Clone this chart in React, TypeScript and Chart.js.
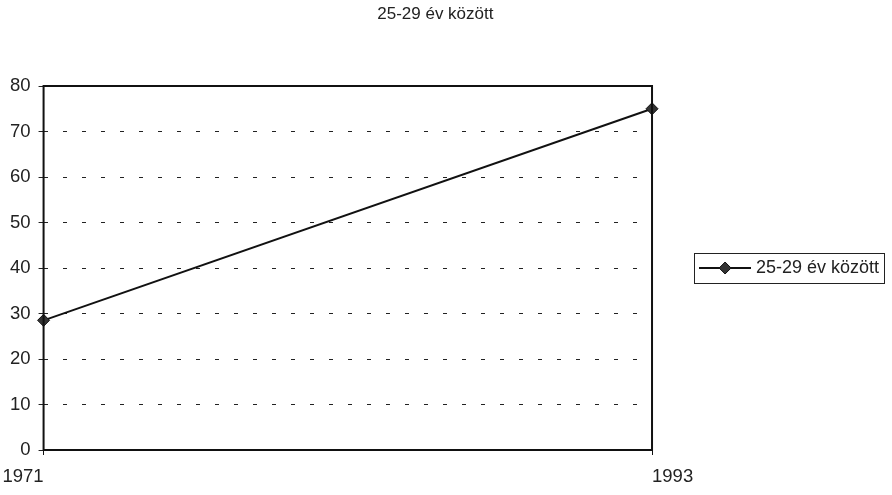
import React, { useEffect, useRef } from "react";
import { Chart, registerables } from "chart.js";

Chart.register(...registerables);

const title = "25-29 év között";
const categories = ["1971", "1993"];
const seriesName = "25-29 év között";
const seriesValues = [28.5, 75];
const yMin = 0;
const yMax = 80;
const yStep = 10;

const FONT = "'Liberation Sans', Arial, sans-serif";

function makeLegendImage(): HTMLCanvasElement {
  const c = document.createElement("canvas");
  c.width = 52;
  c.height = 14;
  const ctx = c.getContext("2d")!;
  ctx.strokeStyle = "#111";
  ctx.lineWidth = 2;
  ctx.beginPath();
  ctx.moveTo(0, 7);
  ctx.lineTo(52, 7);
  ctx.stroke();
  ctx.fillStyle = "#333";
  ctx.lineWidth = 1;
  ctx.beginPath();
  ctx.moveTo(26, 1);
  ctx.lineTo(32, 7);
  ctx.lineTo(26, 13);
  ctx.lineTo(20, 7);
  ctx.closePath();
  ctx.fill();
  ctx.stroke();
  return c;
}

const framePlugin = {
  id: "frame",
  afterLayout(chart: any) {
    const l = chart.legend;
    if (l) {
      l.right = chart.width;
      l.width = l.right - l.left;
    }
  },
  afterDraw(chart: any) {
    const { ctx, chartArea } = chart;
    ctx.save();
    ctx.strokeStyle = "#111";
    ctx.lineWidth = 2;
    ctx.strokeRect(chartArea.left, chartArea.top, chartArea.right - chartArea.left, chartArea.bottom - chartArea.top);
    const legend = chart.legend;
    if (legend && legend.legendHitBoxes && legend.legendHitBoxes.length) {
      const hb = legend.legendHitBoxes[0];
      ctx.lineWidth = 1;
      ctx.strokeStyle = "#222";
      ctx.strokeRect(Math.round(hb.left - 9) + 0.5, Math.round(hb.top - 6) + 0.5, Math.round(hb.width + 14), Math.round(hb.height + 12));
    }
    ctx.restore();
  },
};

const tickFont = { family: FONT, size: 18.5 };

function labelAxis(align: string, showIndex: (i: number) => boolean) {
  return {
    type: "category",
    position: { y: yMin },
    grid: { display: false, drawTicks: false },
    border: { display: false },
    ticks: {
      color: "#222",
      font: tickFont,
      padding: 16,
      maxRotation: 0,
      autoSkip: false,
      align,
      callback: function (this: any, _v: any, i: number) {
        return showIndex(i) ? this.getLabelForValue(i) : "";
      },
    },
    afterFit: (s: any) => {
      s.paddingLeft = 0;
      s.paddingRight = 0;
    },
  };
}

export default function App() {
  const ref = useRef<HTMLCanvasElement | null>(null);
  useEffect(() => {
    document.body.style.margin = "0";
    const legendImg = makeLegendImage();
    const lastIndex = categories.length - 1;
    const chart = new Chart(ref.current!, {
      type: "line",
      data: {
        labels: categories,
        datasets: [
          {
            label: seriesName,
            data: seriesValues,
            borderColor: "#111",
            borderWidth: 2,
            pointStyle: "rectRot",
            pointRadius: 6,
            pointBackgroundColor: "#333",
            pointBorderColor: "#111",
            pointBorderWidth: 1,
            tension: 0,
          },
        ],
      },
      options: {
        animation: false,
        responsive: true,
        maintainAspectRatio: false,
        layout: { padding: { left: 2, right: 23.3, top: 0, bottom: 40 } },
        plugins: {
          title: {
            display: true,
            text: title,
            color: "#222",
            font: { family: FONT, size: 17, weight: "normal" },
            padding: { top: 4, bottom: 61.6 },
          },
          legend: {
            position: "right",
            fullSize: false,
            labels: {
              usePointStyle: true,
              pointStyleWidth: 44,
              color: "#222",
              font: { family: FONT, size: 18 },
              padding: 51,
              generateLabels: () => [
                {
                  text: seriesName,
                  pointStyle: legendImg,
                  fillStyle: "#333",
                  strokeStyle: "#111",
                  lineWidth: 0,
                  datasetIndex: 0,
                  fontColor: "#222",
                },
              ],
            },
          },
          tooltip: { enabled: false },
        },
        scales: {
          x: {
            grid: { display: true, drawOnChartArea: false, drawTicks: true, tickLength: 5, color: "#111" },
            border: { display: false },
            ticks: { display: false },
          },
          xStart: labelAxis("end", (i) => i === 0),
          xEnd: labelAxis("start", (i) => i === lastIndex),
          y: {
            min: yMin,
            max: yMax,
            grid: { color: "#222", tickLength: 5, lineWidth: 1 },
            border: { display: false, dash: [4, 15] },
            ticks: { stepSize: yStep, color: "#222", font: tickFont, padding: 8 },
          },
        },
      },
      plugins: [framePlugin],
    } as any);
    return () => chart.destroy();
  }, []);
  return (
    <div style={{ position: "absolute", left: 0, top: 0, width: 892, height: 495 }}>
      <canvas ref={ref} />
    </div>
  );
}
